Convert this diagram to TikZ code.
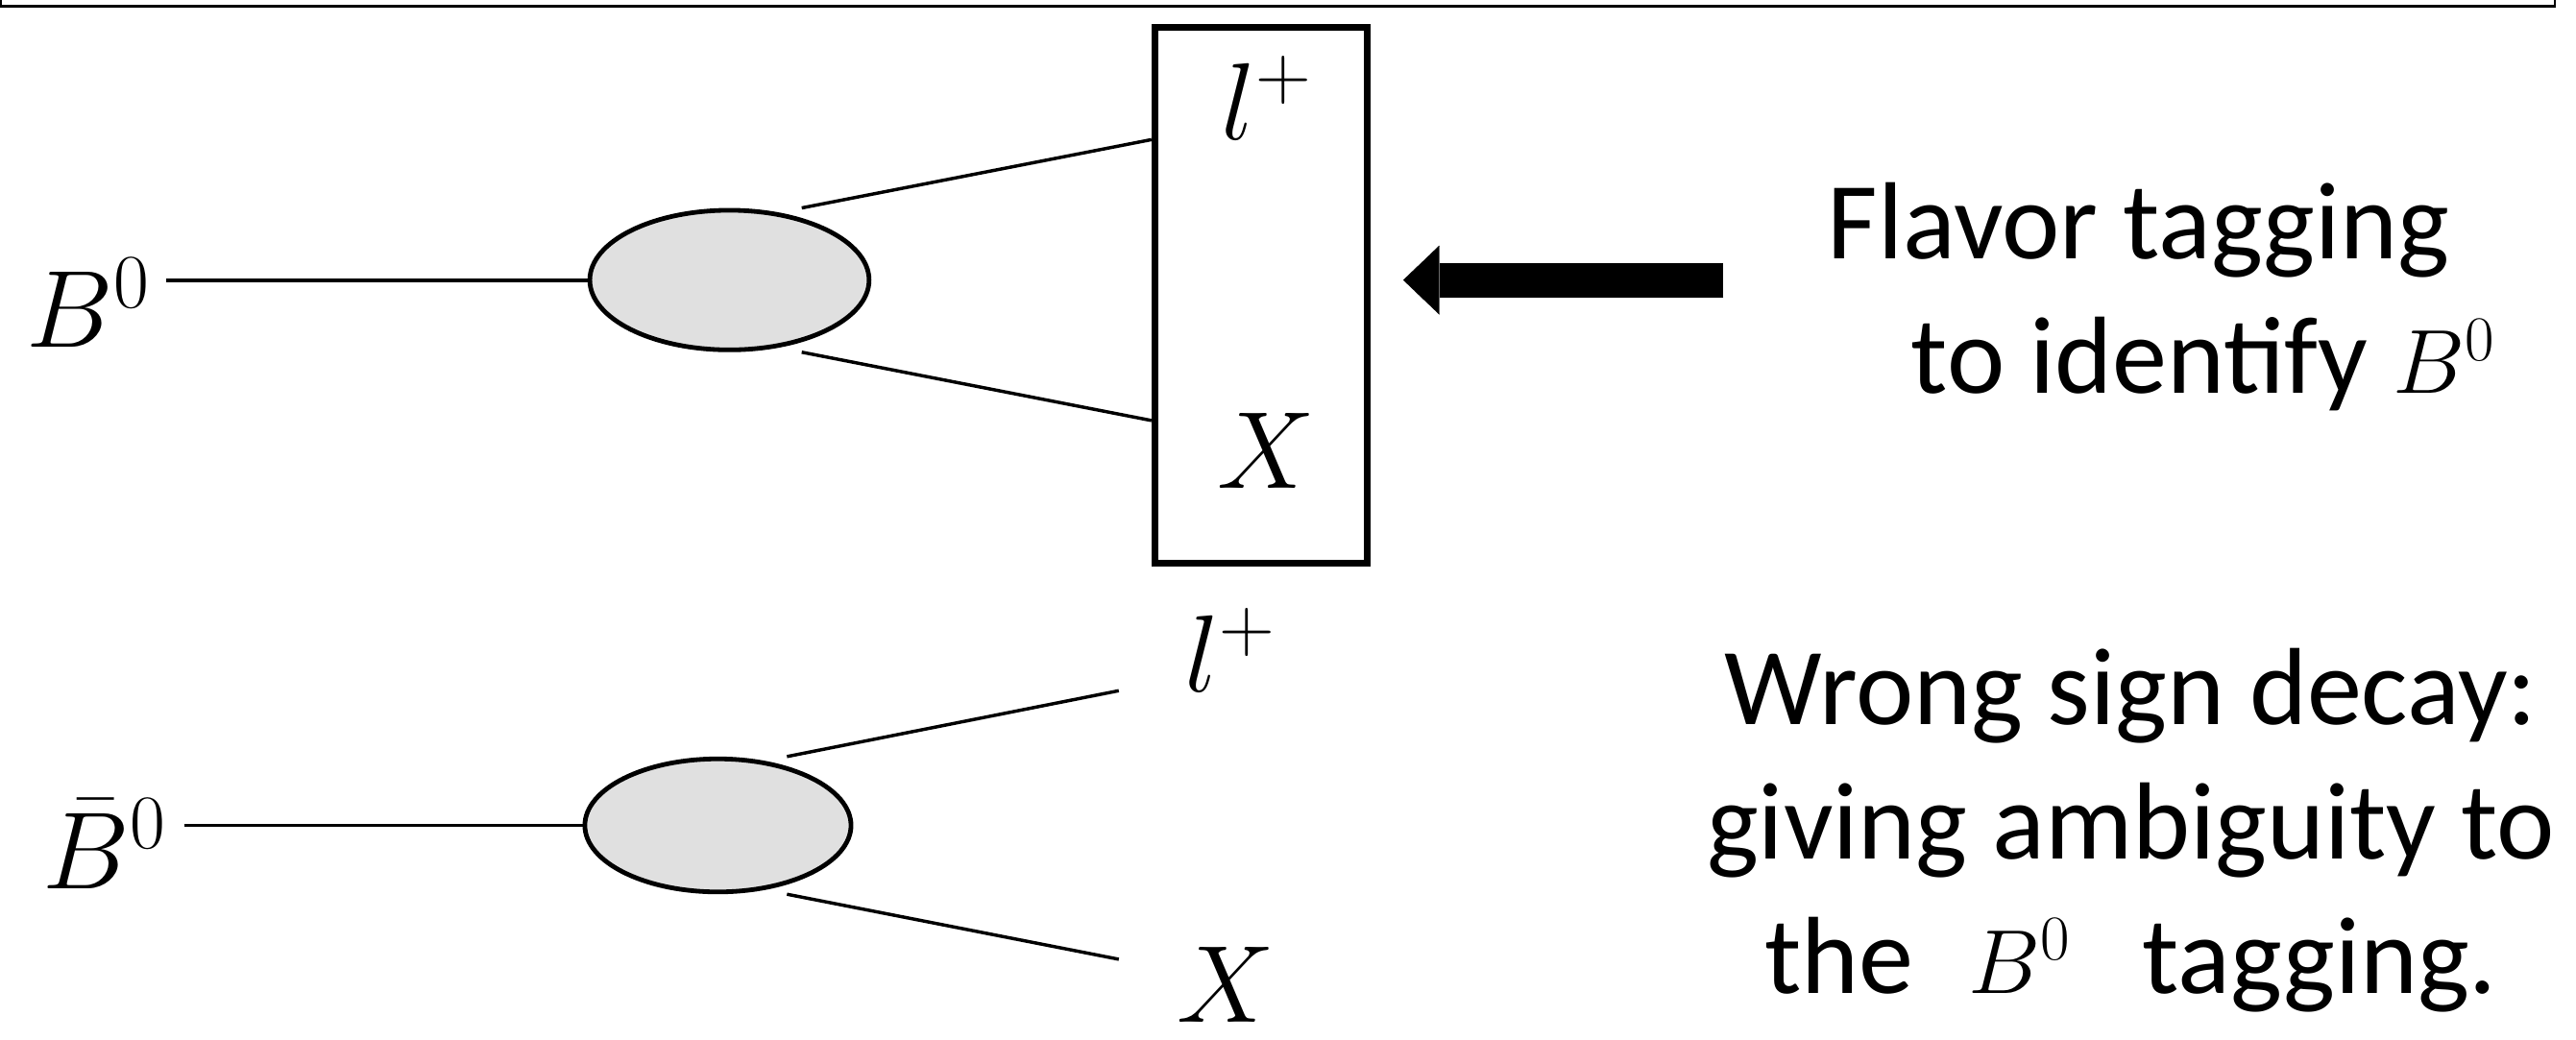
\RequirePackage{fix-cm}
\documentclass[tikz,border=0pt]{standalone}
\usepackage{fontspec}
\newfontfamily\slidefont{Carlito}
\usetikzlibrary{positioning, calc, arrows.meta, shapes.geometric}

\definecolor{blobgray}{HTML}{E0E0E0}
\newcommand{\smallB}{{\fontsize{31.5}{36}\selectfont$B^0$}}

\begin{document}
\begin{tikzpicture}[
    % Node styles
    blob/.style={
        draw, ellipse, fill=blobgray, line width=1.6pt, inner sep=0pt
    },
    lbl/.style={
        font=\fontsize{38}{44}\selectfont, inner sep=0pt
    },
    boxed/.style={
        draw, rectangle, line width=2.4pt, inner sep=0pt
    },
    note/.style={
        font=\slidefont\fontsize{38}{46.5}\selectfont, inner sep=0pt
    },
    % Line styles
    prop/.style={draw, line width=1.3pt},
    decay/.style={draw, line width=1.15pt},
    slideframe/.style={draw, line width=0.8pt},
    % Arrow style
    bigarrow/.style={-{Triangle[length=0.44cm, width=0.84cm, line width=0.1pt]}, line width=0.42cm},
]
\useasboundingbox (0,0) rectangle (31.36,-12.652);

% ===== SLIDE FRAME (bottom edge only) =====
\draw[slideframe] (0.012,0) |- (31.1,-0.076) -- (31.1,0);

% ===== UPPER DECAY: B0 -> l+ X =====

% Blob and incoming B0
\node[blob, minimum width=3.4cm, minimum height=1.7cm] (blob-up) at (8.88,-3.41) {};
\node[lbl, anchor=base east] (bz-up) at (1.84,-4.23) {$B^0$};
\draw[prop] ([xshift=0.18cm]bz-up.east |- blob-up) -- (blob-up.west);

% Box round the final state
\node[boxed, minimum width=2.58cm, minimum height=6.53cm] (tagbox) at (15.35,-3.595) {};
\node[lbl, anchor=base] (lep-up) at (15.42,-1.70) {$l^+$};
\node[lbl, anchor=base] (x-up) at (15.41,-5.94) {$X$};

% Outgoing lines end on the box
\coordinate (hit-l) at ([yshift=1.895cm]tagbox.west);
\coordinate (hit-x) at ([yshift=-1.525cm]tagbox.west);
\draw[decay] ([xshift=0.88cm]blob-up.north) -- (hit-l);
\draw[decay] ([xshift=0.88cm]blob-up.south) -- (hit-x);

% Arrow pointing at the box
\coordinate (arr-tip) at ([xshift=0.4cm]tagbox.east |- blob-up);
\coordinate (arr-tail) at ([xshift=3.9cm]arr-tip);
\draw[bigarrow] (arr-tail) -- (arr-tip);

% Text
\node[note, anchor=north west, align=left] (flavor) at (22.24,-2.22)
    {Flavor tagging\\\hspace*{1.02cm}to identify \smallB};

% ===== LOWER DECAY: B0bar -> l+ X =====

\node[blob, minimum width=3.24cm, minimum height=1.62cm] (blob-dn) at (8.74,-10.05) {};
\node[lbl, anchor=base east] (bz-dn) at (2.04,-10.82) {$\bar{B}^0$};
\draw[prop] ([xshift=0.2cm]bz-dn.east |- blob-dn) -- (blob-dn.west);

\node[lbl, anchor=base] (lep-dn) at (14.98,-8.42) {$l^+$};
\node[lbl, anchor=base] (x-dn) at (14.92,-12.45) {$X$};

\coordinate (end-l) at ([shift={(4.88,1.64)}]blob-dn.center);
\coordinate (end-x) at ([shift={(4.88,-1.63)}]blob-dn.center);
\draw[decay] ([xshift=0.84cm]blob-dn.north) -- (end-l);
\draw[decay] ([xshift=0.84cm]blob-dn.south) -- (end-x);

% Text
\node[note, anchor=north, align=center] (wrong) at (25.94,-7.89)
    {Wrong sign decay:\\giving ambiguity to\\the\hspace{0.5em}\smallB\hspace{0.65em}tagging.};

\end{tikzpicture}
\end{document}
